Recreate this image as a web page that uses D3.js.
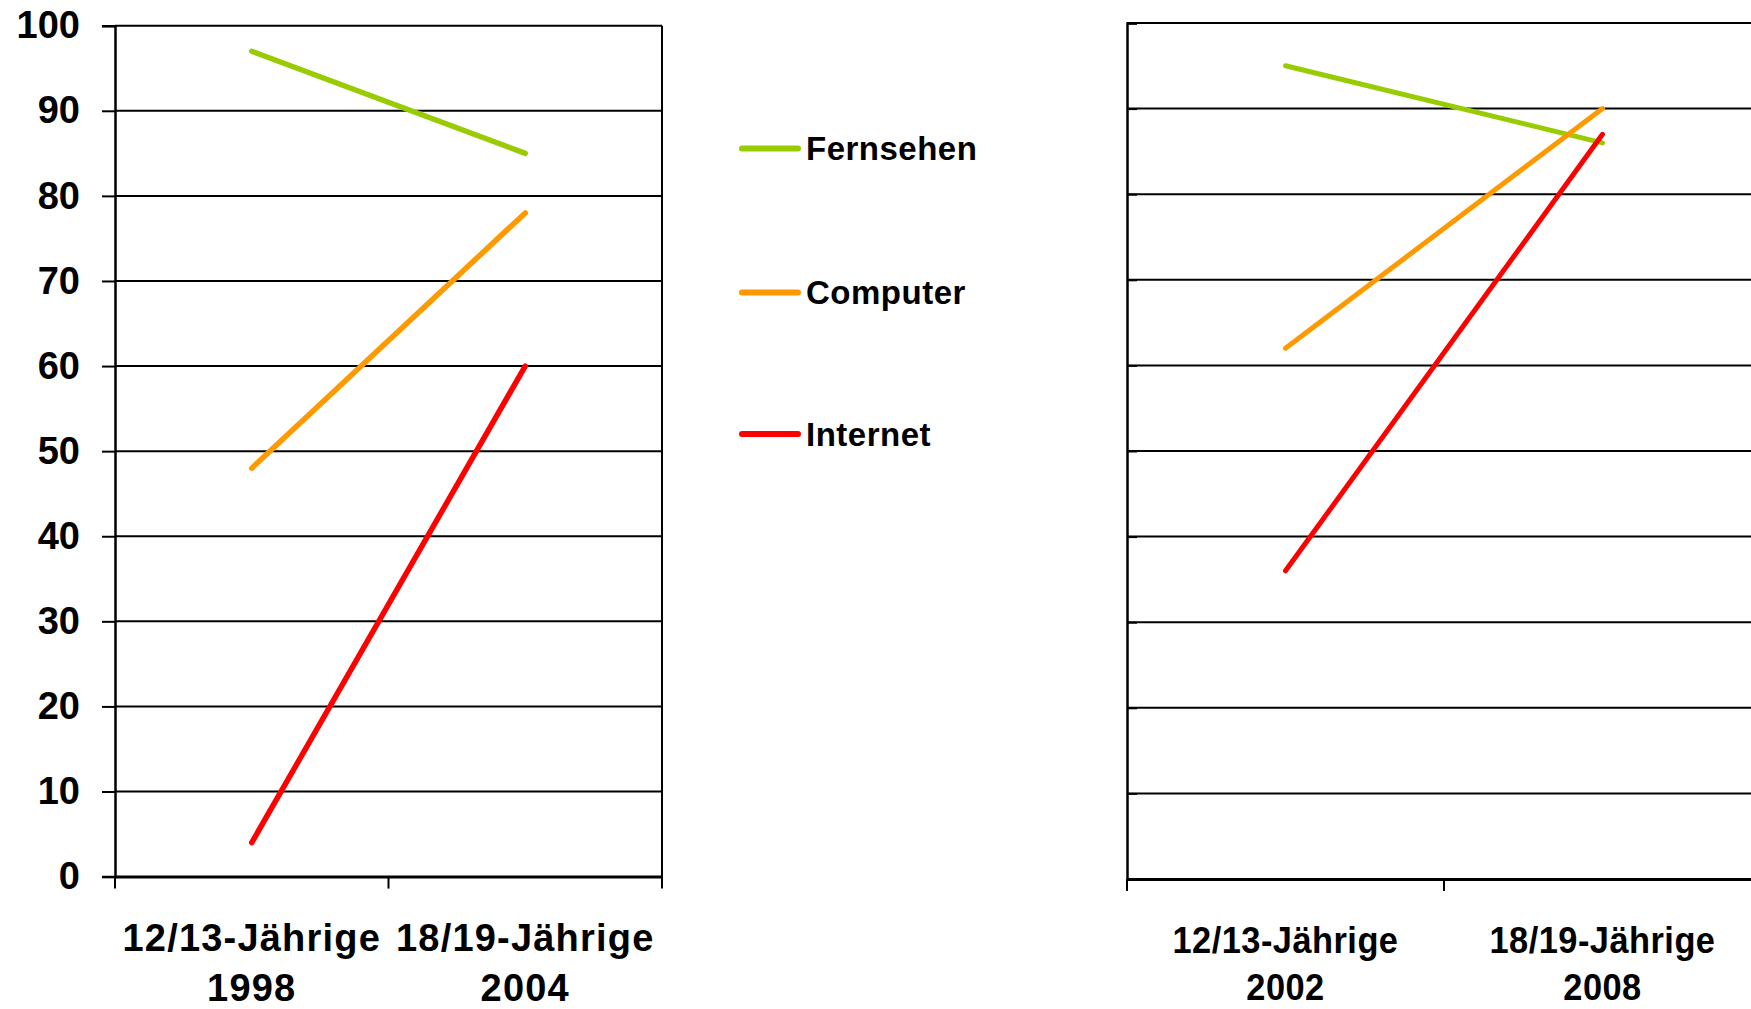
<!DOCTYPE html>
<html><head><meta charset="utf-8">
<script src="https://cdn.jsdelivr.net/npm/d3@7/dist/d3.min.js"></script>
<style>html,body{margin:0;padding:0;background:#fff;overflow:hidden}</style>
</head><body>
<script>
const series = ["Fernsehen", "Computer", "Internet"];
const colors = ["#99CC00", "#FF9900", "#FF0000"];
const leftCats = [["12/13-Jährige", "1998"], ["18/19-Jährige", "2004"]];
const rightCats = [["12/13-Jährige", "2002"], ["18/19-Jährige", "2008"]];
const leftFernsehen = [97, 85];
const leftComputer = [48, 78];
const leftInternet = [4, 60];
const rightFernsehen = [95, 86];
const rightComputer = [62, 90];
const rightInternet = [36, 87];
const yTicks = [0, 10, 20, 30, 40, 50, 60, 70, 80, 90, 100];

const W = 1751, H = 1009;
const svg = d3.select("body").append("svg").attr("width", W).attr("height", H);
const font = "'Liberation Sans', Arial, sans-serif";

function panel(cfg) {
  const g = svg.append("g");
  const x = d3.scaleBand().domain(cfg.cats.map(c => c[0] + " " + c[1])).range([cfg.x0, cfg.x1]).padding(0);
  const y = d3.scaleLinear().domain([0, 100]).range([cfg.yb, cfg.yt]);
  // gridlines
  g.selectAll("line.grid").data(yTicks.filter(t => t > 0)).enter().append("line")
    .attr("x1", cfg.x0).attr("x2", cfg.x1)
    .attr("y1", d => y(d)).attr("y2", d => y(d))
    .attr("stroke", "#000").attr("stroke-width", 2);
  // y axis
  const ya = d3.axisLeft(y).tickValues(yTicks).tickSize(cfg.yTick).tickPadding(22)
    .tickFormat(cfg.showY ? d3.format("d") : "");
  const yg = g.append("g").attr("transform", `translate(${cfg.x0},0)`).call(ya);
  yg.select(".domain").attr("stroke", "#000").attr("stroke-width", 2.5);
  yg.selectAll(".tick line").attr("stroke", "#000").attr("stroke-width", 2);
  yg.selectAll(".tick text").attr("font-family", font).attr("font-weight", "bold")
    .attr("font-size", 38).attr("fill", "#000");
  // x axis
  const xa = d3.axisBottom(x).tickSize(0).tickFormat("");
  const xg = g.append("g").attr("transform", `translate(0,${cfg.yb})`).call(xa);
  xg.select(".domain").attr("stroke", "#000").attr("stroke-width", 3);
  // tick marks at band boundaries
  const bounds = [cfg.x0].concat(x.domain().map(d => x(d) + x.bandwidth()));
  g.selectAll("line.xt").data(bounds).enter().append("line")
    .attr("x1", d => d).attr("x2", d => d)
    .attr("y1", cfg.yb).attr("y2", cfg.yb + 12)
    .attr("stroke", "#000").attr("stroke-width", 2);
  if (cfg.rightBorder) {
    g.append("line").attr("x1", cfg.x1).attr("x2", cfg.x1).attr("y1", cfg.yt).attr("y2", cfg.yb)
      .attr("stroke", "#000").attr("stroke-width", 2);
  }
  // category labels
  cfg.cats.forEach(c => {
    const cx = x(c[0] + " " + c[1]) + x.bandwidth() / 2;
    [[c[0], cfg.ly1], [c[1], cfg.ly2]].forEach(([txt, ty]) => {
      g.append("text").attr("transform", `translate(${cx},${ty}) scale(${cfg.lsx},1)`)
        .attr("text-anchor", "middle")
        .attr("font-family", font).attr("font-weight", "bold").attr("font-size", cfg.lfs)
        .attr("letter-spacing", cfg.lls).attr("fill", "#000").text(txt);
    });
  });
  // lines
  const line = d3.line().x((d, i) => x(x.domain()[i]) + x.bandwidth() / 2).y(d => y(d));
  cfg.data.forEach((vals, i) => {
    g.append("path").datum(vals).attr("d", line).attr("fill", "none")
      .attr("stroke", colors[i]).attr("stroke-width", cfg.sw).attr("stroke-linecap", "round");
  });
}

panel({cats: leftCats, x0: 115, x1: 662, yt: 25.7, yb: 876.6, yTick: 13, showY: true, rightBorder: true,
  lfs: 38, lls: 1.2, lsx: 1, ly1: 951, ly2: 1001, sw: 5.5,
  data: [leftFernsehen, leftComputer, leftInternet]});
panel({cats: rightCats, x0: 1127, x1: 1761, yt: 23, yb: 879, yTick: -10, showY: false, rightBorder: false,
  lfs: 37, lls: 0.5, lsx: 0.93, ly1: 953, ly2: 1000, sw: 5,
  data: [rightFernsehen, rightComputer, rightInternet]});

// legend
const legendY = [148.5, 292.5, 434];
series.forEach((s, i) => {
  svg.append("line").attr("x1", 742).attr("x2", 798).attr("y1", legendY[i]).attr("y2", legendY[i])
    .attr("stroke", colors[i]).attr("stroke-width", 6).attr("stroke-linecap", "round");
  svg.append("text").attr("x", 806).attr("y", legendY[i]).attr("dy", "0.36em")
    .attr("font-family", font).attr("font-weight", "bold").attr("font-size", 33)
    .attr("letter-spacing", 0.5).attr("fill", "#000").text(s);
});
</script>
</body></html>
